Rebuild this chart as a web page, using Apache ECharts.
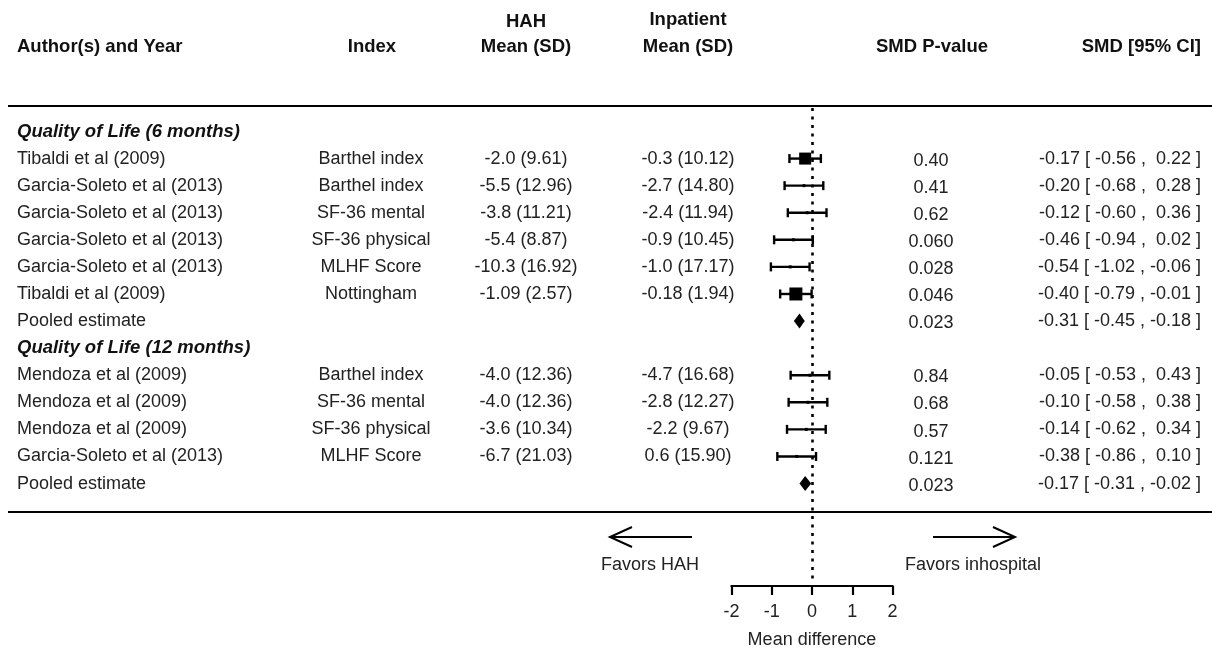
<!DOCTYPE html>
<html>
<head>
<meta charset="utf-8">
<script src="https://cdn.jsdelivr.net/npm/echarts@6/dist/echarts.min.js"></script>
<style>
  html, body { margin: 0; padding: 0; background: #fff; }
  #chart { width: 1212px; height: 652px; }
</style>
</head>
<body>
<div id="chart"></div>
<script>
// rows of the table (0 and 8 are the section headings)
const rowLabels = [
  "Quality of Life (6 months)",
  "Tibaldi et al (2009)",
  "Garcia-Soleto et al (2013)",
  "Garcia-Soleto et al (2013)",
  "Garcia-Soleto et al (2013)",
  "Garcia-Soleto et al (2013)",
  "Tibaldi et al (2009)",
  "Pooled estimate",
  "Quality of Life (12 months)",
  "Mendoza et al (2009)",
  "Mendoza et al (2009)",
  "Mendoza et al (2009)",
  "Garcia-Soleto et al (2013)",
  "Pooled estimate",
];
const headingRows = [0, 8];
const pooledRows = [7, 13];
const indexNames = ["", "Barthel index", "Barthel index", "SF-36 mental", "SF-36 physical", "MLHF Score", "Nottingham", "",
  "", "Barthel index", "SF-36 mental", "SF-36 physical", "MLHF Score", ""];
const hahMeanSd = ["", "-2.0 (9.61)", "-5.5 (12.96)", "-3.8 (11.21)", "-5.4 (8.87)", "-10.3 (16.92)", "-1.09 (2.57)", "",
  "", "-4.0 (12.36)", "-4.0 (12.36)", "-3.6 (10.34)", "-6.7 (21.03)", ""];
const inpMeanSd = ["", "-0.3 (10.12)", "-2.7 (14.80)", "-2.4 (11.94)", "-0.9 (10.45)", "-1.0 (17.17)", "-0.18 (1.94)", "",
  "", "-4.7 (16.68)", "-2.8 (12.27)", "-2.2 (9.67)", "0.6 (15.90)", ""];
const pValues = ["", "0.40", "0.41", "0.62", "0.060", "0.028", "0.046", "0.023",
  "", "0.84", "0.68", "0.57", "0.121", "0.023"];
const smd = [null, -0.17, -0.20, -0.12, -0.46, -0.54, -0.40, -0.31, null, -0.05, -0.10, -0.14, -0.38, -0.17];
const ciLow = [null, -0.56, -0.68, -0.60, -0.94, -1.02, -0.79, -0.45, null, -0.53, -0.58, -0.62, -0.86, -0.31];
const ciHigh = [null, 0.22, 0.28, 0.36, 0.02, -0.06, -0.01, -0.18, null, 0.43, 0.38, 0.34, 0.10, -0.02];
// relative study weight -> box size
const boxSize = [0, 12, 3, 3, 3, 3, 13, 0, 0, 3, 3, 3, 3, 0];
const xTicks = [-2, 2, 1]; // min, max, step

// layout
const W = 1212, H = 652;
const ROW_H = 27.08, ROW0_Y = 131.5;
const FONT = "'Liberation Sans', Arial, sans-serif";
const FS = 18;
const FS_HEAD = 18.5;
const TXT = "#222";
const px2row = (y) => (y - ROW0_Y) / ROW_H;
const ZERO_X = 812, UNIT = 40.3;
const FOREST_TOP = 106, FOREST_BOTTOM = 586;

function fmt(v) {
  const s = v.toFixed(2);
  return s.length < 5 ? " " + s : s;
}
const ciText = smd.map((v, i) => v === null ? "" : `${v.toFixed(2)} [ ${fmt(ciLow[i])} , ${fmt(ciHigh[i])} ]`);

// text column drawn in the full-page grid
function textLayer(x, align, items, bold, italic, size) {
  const font = `${italic ? "italic " : ""}${bold ? "bold " : ""}${size || FS}px ${FONT}`;
  return {
    type: "custom",
    xAxisIndex: 0,
    yAxisIndex: 0,
    silent: true,
    data: items.map((it) => [x, it.row]),
    renderItem(params, api) {
      const p = api.coord([api.value(0), api.value(1)]);
      return {
        type: "text",
        x: p[0],
        y: p[1],
        style: {
          text: items[params.dataIndex].text,
          align: align,
          verticalAlign: "middle",
          font: font,
          fill: bold ? "#111" : TXT,
        },
      };
    },
  };
}
const rowsOf = (arr, dy) => arr.map((t, i) => ({ row: i + (dy || 0), text: t })).filter((it) => it.text);
const head = (x, align, items) => textLayer(x, align, items, true, false, FS_HEAD);

const studyRows = rowLabels.map((t, i) => i).filter((i) => headingRows.indexOf(i) < 0);

const series = [
  // header
  head(17, "left", [{ row: px2row(47), text: "Author(s) and Year" }]),
  head(372, "center", [{ row: px2row(47), text: "Index" }]),
  head(526, "center", [{ row: px2row(22), text: "HAH" }, { row: px2row(47), text: "Mean (SD)" }]),
  head(688, "center", [{ row: px2row(20), text: "Inpatient" }, { row: px2row(47), text: "Mean (SD)" }]),
  head(932, "center", [{ row: px2row(47), text: "SMD P-value" }]),
  head(1201, "right", [{ row: px2row(47), text: "SMD [95% CI]" }]),
  // body
  textLayer(17, "left", headingRows.map((r) => ({ row: r, text: rowLabels[r] })), true, true, FS_HEAD),
  textLayer(17, "left", studyRows.map((r) => ({ row: r, text: rowLabels[r] }))),
  textLayer(371, "center", rowsOf(indexNames)),
  textLayer(526, "center", rowsOf(hahMeanSd)),
  textLayer(688, "center", rowsOf(inpMeanSd)),
  textLayer(931, "center", rowsOf(pValues, 0.08)),
  textLayer(1201, "right", rowsOf(ciText)),
  textLayer(650, "center", [{ row: px2row(565), text: "Favors HAH" }]),
  textLayer(973, "center", [{ row: px2row(565), text: "Favors inhospital" }]),
  // horizontal rules
  {
    type: "custom",
    xAxisIndex: 0,
    yAxisIndex: 0,
    silent: true,
    data: [[8, px2row(106)], [8, px2row(512)]],
    renderItem(params, api) {
      const a = api.coord([api.value(0), api.value(1)]);
      const b = api.coord([W, api.value(1)]);
      return { type: "line", shape: { x1: a[0], y1: a[1], x2: b[0], y2: b[1] }, style: { stroke: "#000", lineWidth: 2.2 } };
    },
  },
  // arrows (x from, x to; tip at "to")
  {
    type: "custom",
    xAxisIndex: 0,
    yAxisIndex: 0,
    silent: true,
    data: [[692, 610, px2row(537)], [933, 1015, px2row(537)]],
    renderItem(params, api) {
      const a = api.coord([api.value(0), api.value(2)]);
      const b = api.coord([api.value(1), api.value(2)]);
      const d = b[0] > a[0] ? -22 : 22;
      const st = { stroke: "#000", lineWidth: 2, fill: null };
      return {
        type: "group",
        children: [
          { type: "line", shape: { x1: a[0], y1: a[1], x2: b[0], y2: b[1] }, style: st },
          { type: "polyline", shape: { points: [[b[0] + d, b[1] - 10], [b[0], b[1]], [b[0] + d, b[1] + 10]] }, style: st },
        ],
      };
    },
  },
  // study estimates with CI
  {
    type: "custom",
    xAxisIndex: 1,
    yAxisIndex: 1,
    silent: true,
    data: studyRows.filter((r) => pooledRows.indexOf(r) < 0).map((r) => [smd[r], r, ciLow[r], ciHigh[r], boxSize[r]]),
    renderItem(params, api) {
      const y = api.value(1);
      const c = api.coord([api.value(0), y]);
      const lo = api.coord([api.value(2), y]);
      const hi = api.coord([api.value(3), y]);
      const s = api.value(4);
      const st = { stroke: "#000", lineWidth: 2.4 };
      return {
        type: "group",
        children: [
          { type: "line", shape: { x1: lo[0], y1: c[1], x2: hi[0], y2: c[1] }, style: st },
          { type: "line", shape: { x1: lo[0], y1: c[1] - 4.5, x2: lo[0], y2: c[1] + 4.5 }, style: st },
          { type: "line", shape: { x1: hi[0], y1: c[1] - 4.5, x2: hi[0], y2: c[1] + 4.5 }, style: st },
          { type: "rect", shape: { x: c[0] - s / 2, y: c[1] - s / 2, width: s, height: s }, style: { fill: "#000" } },
        ],
      };
    },
    markLine: {
      silent: true,
      symbol: "none",
      label: { show: false },
      lineStyle: { color: "#000", width: 2.6, type: [3, 5.5] },
      data: [[{ coord: [0, px2row(108)] }, { coord: [0, px2row(579)] }]],
    },
  },
  // pooled diamonds
  {
    type: "custom",
    xAxisIndex: 1,
    yAxisIndex: 1,
    silent: true,
    data: pooledRows.map((r) => [smd[r], r, ciLow[r], ciHigh[r]]),
    renderItem(params, api) {
      const y = api.value(1);
      const c = api.coord([api.value(0), y]);
      const lo = api.coord([api.value(2), y]);
      const hi = api.coord([api.value(3), y]);
      return {
        type: "polygon",
        shape: { points: [[lo[0], c[1]], [c[0], c[1] - 7.5], [hi[0], c[1]], [c[0], c[1] + 7.5]] },
        style: { fill: "#000" },
      };
    },
  },
];

const chart = echarts.init(document.getElementById("chart"));
chart.setOption({
  backgroundColor: "#fff",
  animation: false,
  grid: [
    { left: 0, right: 0, top: 0, bottom: 0, outerBoundsMode: "none" },
    {
      left: ZERO_X + xTicks[0] * UNIT,
      right: W - (ZERO_X + xTicks[1] * UNIT),
      top: FOREST_TOP,
      bottom: H - FOREST_BOTTOM,
      outerBoundsMode: "none",
    },
  ],
  xAxis: [
    { gridIndex: 0, type: "value", min: 0, max: W, show: false },
    {
      gridIndex: 1,
      type: "value",
      min: xTicks[0],
      max: xTicks[1],
      interval: xTicks[2],
      position: "bottom",
      splitLine: { show: false },
      axisLine: { onZero: false, lineStyle: { color: "#000", width: 2.2 } },
      axisTick: { length: 9, lineStyle: { color: "#000", width: 2.2 } },
      axisLabel: { fontSize: FS, fontFamily: FONT, color: TXT, margin: 17 },
      name: "Mean difference",
      nameLocation: "middle",
      nameGap: 45,
      nameTextStyle: { fontSize: FS, fontFamily: FONT, color: TXT },
    },
  ],
  yAxis: [
    { gridIndex: 0, type: "value", inverse: true, min: px2row(0), max: px2row(H), show: false },
    { gridIndex: 1, type: "value", inverse: true, min: px2row(FOREST_TOP), max: px2row(FOREST_BOTTOM), show: false },
  ],
  series: series,
});
</script>
</body>
</html>
